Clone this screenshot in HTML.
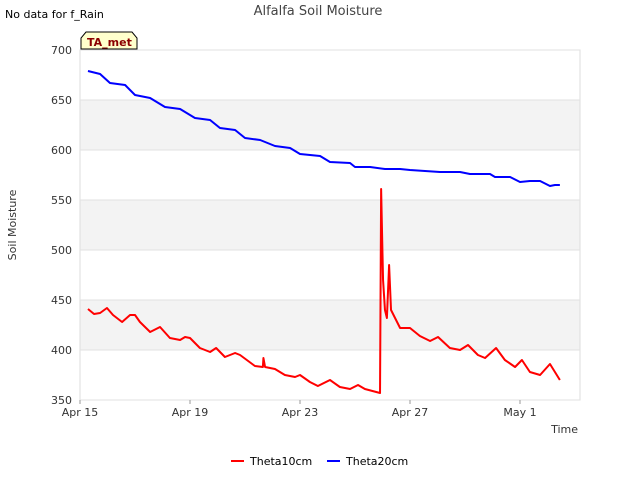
<!DOCTYPE html>
<html><head><meta charset="utf-8"><style>
body{margin:0;background:#fff;font-family:"Liberation Sans",sans-serif}
svg text{font-family:"DejaVu Sans","Liberation Sans",sans-serif}
</style></head><body>
<svg id="c" width="640" height="480" xmlns="http://www.w3.org/2000/svg">
<text x="5" y="18" font-size="11" fill="#000">No data for f_Rain</text>
<text x="318" y="15" font-size="13" fill="#444" text-anchor="middle">Alfalfa Soil Moisture</text>
<g id="bands"></g>
<rect x="80" y="50" width="500" height="350" fill="none" stroke="#ddd"/>
<g id="ticks"></g>
<g id="series"></g>
<path d="M81 49 L81 38 L86 32 L132 32 L137 38 L137 49 Z" fill="#ffffcc" stroke="#000"/>
<text x="87" y="46" font-size="11" font-weight="bold" fill="#8b0000">TA_met</text>
<text x="16" y="225" font-size="11" fill="#333" text-anchor="middle" transform="rotate(-90 16 225)">Soil Moisture</text>
<text x="578" y="433" font-size="11" fill="#333" text-anchor="end">Time</text>
<g>
<line x1="231" y1="461" x2="244" y2="461" stroke="#f00" stroke-width="2"/>
<text x="250" y="465" font-size="11" fill="#000">Theta10cm</text>
<line x1="327" y1="461" x2="340" y2="461" stroke="#00f" stroke-width="2"/>
<text x="346" y="465" font-size="11" fill="#000">Theta20cm</text>
</g>
</svg>
<script>
const yTicks=[350,400,450,500,550,600,650,700];
const xTickDays=[0,4,8,12,16];
const xTickLabels=["Apr 15","Apr 19","Apr 23","Apr 27","May 1"];
const t10Days=[0.29,0.51,0.73,0.98,1.2,1.53,1.82,2.0,2.18,2.55,2.91,3.27,3.64,3.82,4.0,4.36,4.73,4.95,5.27,5.64,5.82,6.36,6.65,6.67,6.73,7.09,7.45,7.82,8.0,8.36,8.65,9.09,9.45,9.82,10.11,10.36,10.91,10.95,11.02,11.09,11.16,11.24,11.31,11.64,12.0,12.36,12.73,13.02,13.45,13.82,14.11,14.47,14.73,15.13,15.45,15.82,16.07,16.36,16.73,17.09,17.27,17.45];
const t10Vals=[441,436,437,442,435,428,435,435,428,418,423,412,410,413,412,402,398,402,393,397,395,384,383,392,383,381,375,373,375,368,364,370,363,361,365,361,357,561,470,440,432,485,440,422,422,414,409,413,402,400,405,395,392,402,390,383,390,378,375,386,378,370];
const t20Days=[0.29,0.73,1.09,1.64,2.0,2.55,3.09,3.64,4.18,4.73,5.09,5.64,6.0,6.55,7.09,7.64,8.0,8.73,9.09,9.82,10.0,10.55,11.09,11.64,12.0,13.09,13.82,14.18,14.91,15.09,15.64,16.0,16.36,16.73,17.09,17.27,17.45];
const t20Vals=[679,676,667,665,655,652,643,641,632,630,622,620,612,610,604,602,596,594,588,587,583,583,581,581,580,578,578,576,576,573,573,568,569,569,564,565,565];
const NS="http://www.w3.org/2000/svg";
const xS=d=>80+d*27.5, yS=v=>400-(v-350);
function mk(tag,attrs,parent){const e=document.createElementNS(NS,tag);for(const k in attrs)e.setAttribute(k,attrs[k]);parent.appendChild(e);return e;}
const bands=document.getElementById('bands'),ticks=document.getElementById('ticks'),series=document.getElementById('series');
for(let i=0;i<yTicks.length-1;i++){
  if(i%2===1){const r=mk('rect',{x:80,y:yS(yTicks[i+1]),width:500,height:yS(yTicks[i])-yS(yTicks[i+1]),fill:'#f3f3f3'},bands);
  
  }
}
yTicks.forEach(v=>{
  const l=mk('line',{x1:80,x2:580,y1:yS(v),y2:yS(v),stroke:'#e2e2e2'},ticks);
  
  
  const t=mk('text',{x:72,y:yS(v)+4,'font-size':11,fill:'#333','text-anchor':'end'},ticks);t.textContent=v;
  
  
});
xTickDays.forEach((d,i)=>{
  const l=mk('line',{x1:xS(d),x2:xS(d),y1:400,y2:404,stroke:'#999'},ticks);
  
  
  const t=mk('text',{x:xS(d),y:416,'font-size':11,fill:'#333','text-anchor':'middle'},ticks);t.textContent=xTickLabels[i];
  
  
});
function line(days,vals,col,name){
  const p=mk('polyline',{points:days.map((d,i)=>xS(d)+','+yS(vals[i])).join(' '),fill:'none',stroke:col,'stroke-width':2,'stroke-linejoin':'round'},series);
  
  
}
line(t10Days,t10Vals,'#f00','theta10cm-line');
line(t20Days,t20Vals,'#00f','theta20cm-line');
</script>
</body></html>
